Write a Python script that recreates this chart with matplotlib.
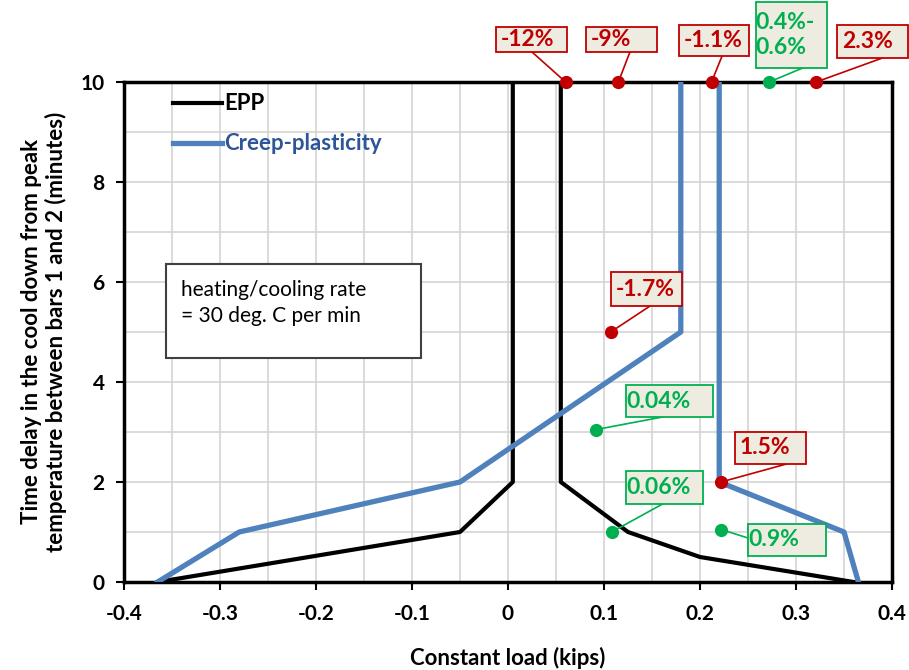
import numpy as np
import matplotlib
matplotlib.use("Agg")
import matplotlib.pyplot as plt
from matplotlib.patches import Rectangle

plt.rcParams['font.family'] = ['Lato', 'DejaVu Sans']

# load (kips) vs. time delay (minutes)
epp_left_x = [-0.365, -0.05, 0.005, 0.005]
epp_left_y = [0, 1, 2, 10]
epp_right_x = [0.055, 0.055, 0.125, 0.2, 0.36]
epp_right_y = [10, 2, 1, 0.5, 0]
creep_left_x = [-0.365, -0.28, -0.05, 0.18, 0.18]
creep_left_y = [0, 1, 2, 5, 10]
creep_right_x = [0.22, 0.22, 0.35, 0.365]
creep_right_y = [10, 2, 1, 0]

# error labels: text, point (x, y), colour key
lab_text = ["-12%", "-9%", "-1.1%", "0.4%-\n0.6%", "2.3%", "-1.7%",
            "0.04%", "1.5%", "0.06%", "0.9%"]
lab_px = [0.060, 0.115, 0.212, 0.272, 0.321, 0.107, 0.092, 0.222, 0.108, 0.222]
lab_py = [10, 10, 10, 10, 10, 5.0, 3.05, 2.0, 1.0, 1.05]
lab_kind = ["r", "r", "r", "g", "r", "r", "g", "r", "g", "g"]
# label boxes (x0, x1, y0, y1) and leader end
box_x0 = [-0.0125, 0.081, 0.178, 0.258, 0.343, 0.107, 0.123, 0.236, 0.123, 0.250]
box_x1 = [0.0615, 0.155, 0.251, 0.332, 0.417, 0.181, 0.214, 0.310, 0.203, 0.331]
box_y0 = [10.6, 10.6, 10.52, 10.28, 10.48, 5.52, 3.30, 2.36, 1.56, 0.52]
box_y1 = [11.1, 11.1, 11.14, 11.6, 11.14, 6.20, 3.94, 3.00, 2.22, 1.16]
lead_x = [0.025, 0.127, 0.223, 0.307, 0.390, 0.148, 0.161, 0.290, 0.161, 0.250]
lead_y = [10.6, 10.6, 10.52, 10.28, 10.48, 5.52, 3.30, 2.36, 1.56, 0.88]

colors = {"r": "#c00000", "g": "#00b050"}
blue = "#4f81bd"

fig = plt.figure(figsize=(9.09, 6.70), dpi=100)
ax = fig.add_axes([124/909, 88/670, 768/909, 500/670])

ax.set_xlim(-0.4, 0.4)
ax.set_ylim(0, 10)
ax.set_xticks(np.arange(-0.4, 0.41, 0.1))
ax.set_xticklabels(["-0.4", "-0.3", "-0.2", "-0.1", "0", "0.1", "0.2", "0.3", "0.4"])
ax.set_yticks(np.arange(0, 11, 2))
ax.set_xticks(np.arange(-0.4, 0.41, 0.05), minor=True)
ax.set_yticks(np.arange(0, 11, 1), minor=True)
ax.tick_params(which="minor", length=0)
ax.tick_params(which="major", direction="out", length=6, width=1.5, labelsize=15)
ax.tick_params(axis="x", pad=10)
ax.tick_params(axis="y", pad=8)
for lbl in ax.get_xticklabels() + ax.get_yticklabels():
    lbl.set_fontweight("bold")
ax.grid(which="both", color="#d4d4d4", lw=1.2)
ax.set_axisbelow(True)
for s in ax.spines.values():
    s.set_linewidth(2.5)

ax.set_xlabel("Constant load (kips)", fontsize=16, fontweight="bold", labelpad=16)
ax.set_ylabel("Time delay in the cool down from peak\ntemperature between bars 1 and 2 (minutes)",
              fontsize=16, fontweight="bold", labelpad=10, linespacing=1.15)

ax.plot(epp_left_x, epp_left_y, color="k", lw=3, label="EPP", zorder=3)
ax.plot(epp_right_x, epp_right_y, color="k", lw=3, zorder=3)
ax.plot(creep_left_x, creep_left_y, color=blue, lw=3.8, label="Creep-plasticity", zorder=4)
ax.plot(creep_right_x, creep_right_y, color=blue, lw=3.8, zorder=4)

leg = ax.legend(loc="upper left", bbox_to_anchor=(0.052, 0.995), frameon=False,
                handlelength=2.2, handletextpad=0.1, labelspacing=0.85,
                prop={"size": 16, "weight": "bold"}, borderaxespad=0)
leg.get_texts()[1].set_color("#2e5597")

# note box
ax.add_patch(Rectangle((-0.356, 4.48), 0.265, 1.88, fill=True, fc="white",
                       ec="#404040", lw=1.5, zorder=5))
ax.text(-0.341, 5.58, "heating/cooling rate\n= 30 deg. C per min", fontsize=15,
        va="center", ha="left", linespacing=1.35, zorder=6)

for i in range(len(lab_text)):
    c = colors[lab_kind[i]]
    ax.plot([lab_px[i], lead_x[i]], [lab_py[i], lead_y[i]], color=c, lw=1.2,
            clip_on=False, zorder=6)
    ax.plot(lab_px[i], lab_py[i], "o", color=c, ms=8.5, clip_on=False, zorder=8)
    ax.add_patch(Rectangle((box_x0[i], box_y0[i]), box_x1[i] - box_x0[i],
                           box_y1[i] - box_y0[i], fc="#eeece1", ec=c, lw=1.3,
                           clip_on=False, zorder=7))
    off = 0.005 if lab_kind[i] == "r" else 0.0
    ax.text(box_x0[i] + off, (box_y0[i] + box_y1[i]) / 2, lab_text[i], color=c,
            fontsize=16.5, fontweight="bold", ha="left", va="center",
            linespacing=1.25, clip_on=False, zorder=9)

fig.savefig("out.png", dpi=100)
